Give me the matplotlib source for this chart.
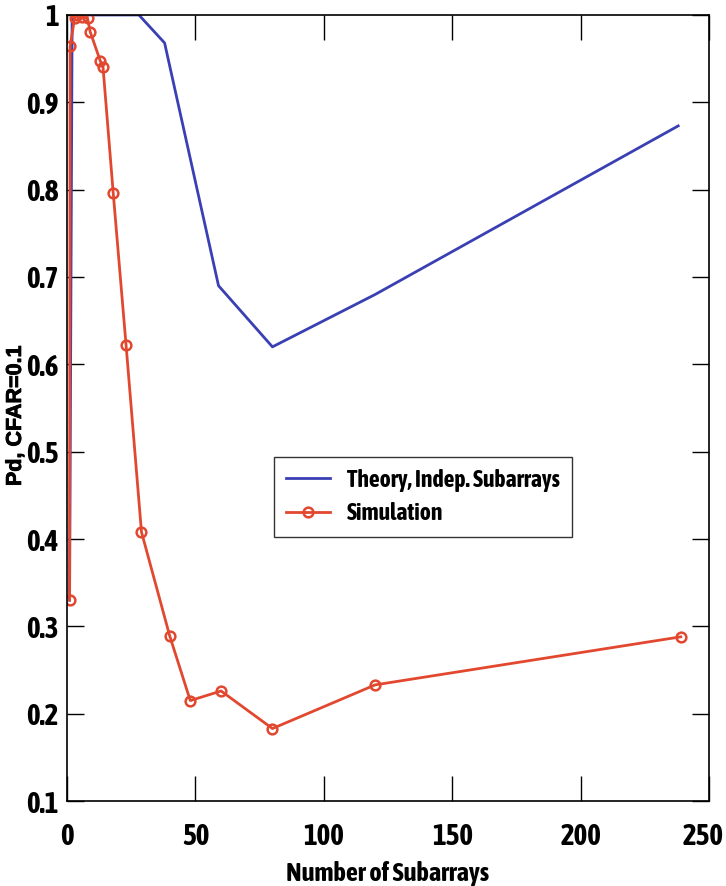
import matplotlib
matplotlib.use("Agg")
import matplotlib.pyplot as plt
import matplotlib.patheffects as pe
from matplotlib import font_manager

# Theory curve (independent subarrays)
theory_x = [1, 2, 28, 38, 59, 80, 120, 238]
theory_pd = [0.33, 1.0, 1.0, 0.968, 0.69, 0.62, 0.68, 0.873]

# Simulation points
sim_x = [1, 1.2, 3, 4, 6, 8, 9, 13, 14, 18, 23, 29, 40, 48, 60, 80, 120, 239]
sim_pd = [0.33, 0.964, 0.997, 1.0, 0.998, 0.996, 0.981, 0.947, 0.941,
          0.796, 0.622, 0.408, 0.289, 0.215, 0.226, 0.183, 0.233, 0.288]

xticks = [0, 50, 100, 150, 200, 250]
xtick_labels = ["0", "50", "100", "150", "200", "250"]
yticks = [0.1, 0.2, 0.3, 0.4, 0.5, 0.6, 0.7, 0.8, 0.9, 1.0]
ytick_labels = ["0.1", "0.2", "0.3", "0.4", "0.5", "0.6", "0.7", "0.8", "0.9", "1"]


def weight_num(w):
    if isinstance(w, str):
        return font_manager.weight_dict.get(w, 400)
    return int(w)


# find the condensed face with the heaviest weight
best = {}
for f in font_manager.fontManager.ttflist:
    if "Narrow" in f.name or "Condensed" in f.name:
        best[f.name] = max(best.get(f.name, 0), weight_num(f.weight))
wide = "Liberation Sans"
if best:
    narrow = max(best, key=lambda n: best[n])
    k = 1.0
    fake_bold = best[narrow] < 600
else:
    narrow = wide
    k = 0.85
    fake_bold = False

effects = [pe.withStroke(linewidth=0.9, foreground="black")] if fake_bold else []
tick_font = dict(family=narrow, fontweight="bold", fontsize=21 * k)

fig = plt.figure(figsize=(7.26, 8.86), dpi=100)
ax = fig.add_axes([0.0923, 0.0959, 0.8843, 0.8872])

ax.plot(theory_x, theory_pd, color="#3a3fb4", lw=2.0,
        label="Theory, Indep. Subarrays")
ax.plot(sim_x, sim_pd, color="#e2482f", lw=2.0, marker="o", ms=7,
        mfc="none", mec="#e2482f", mew=1.8, label="Simulation")

ax.set_xlim(0, 250)
ax.set_ylim(0.1, 1.0)
ax.set_xticks(xticks)
ax.set_yticks(yticks)
# last x label is drawn by hand a little to the left so it fits the picture
ax.set_xticklabels(xtick_labels[:-1] + [""])
ax.set_yticklabels(ytick_labels)

for lab in ax.get_xticklabels() + ax.get_yticklabels():
    lab.set_family(narrow)
    lab.set_fontweight("bold")
    lab.set_fontsize(21 * k)
    lab.set_path_effects(effects)

ax.tick_params(axis="x", direction="in", length=18, width=1, top=True, pad=15)
ax.tick_params(axis="y", direction="in", length=12, width=1, right=True, pad=6)
for sp in ax.spines.values():
    sp.set_linewidth(1.2)

t250 = ax.annotate(xtick_labels[-1], xy=(xticks[-1], 0.1), xycoords="data",
                   xytext=(-4, -15), textcoords="offset points",
                   ha="center", va="top", annotation_clip=False, **tick_font)
t250.set_path_effects(effects)

xl = ax.set_xlabel("Number of Subarrays", family=narrow, fontweight="bold",
                   fontsize=19 * k, labelpad=7)
xl.set_path_effects(effects)
yl = ax.set_ylabel("Pd, CFAR=0.1", family=wide, fontweight="bold", fontsize=15.5)
yl.set_path_effects([pe.withStroke(linewidth=0.6, foreground="black")])
ax.yaxis.set_label_coords(-0.064, 0.49)

leg = ax.legend(loc="upper left", bbox_to_anchor=(0.322, 0.438),
                prop={"family": narrow, "weight": "bold", "size": 17 * k},
                frameon=True, fancybox=False, edgecolor="black",
                handlelength=1.9, handletextpad=0.7, borderpad=0.5,
                labelspacing=0.45, borderaxespad=0)
leg.get_frame().set_linewidth(1.0)
for t in leg.get_texts():
    t.set_path_effects(effects)

fig.savefig("out.png", dpi=100)
